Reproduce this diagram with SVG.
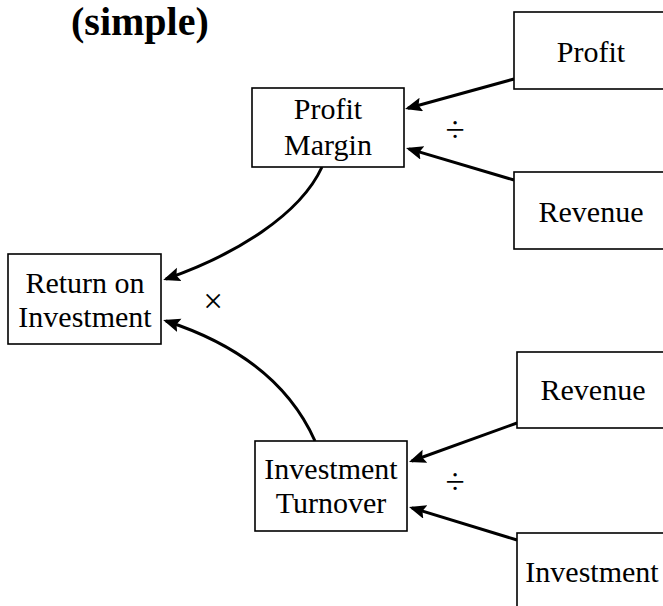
<svg xmlns="http://www.w3.org/2000/svg" width="663" height="606" viewBox="0 0 663 606">
<defs>
<style>
.box{fill:#fff;stroke:#000;stroke-width:1.6}
.t{font-family:"Liberation Serif","Times New Roman",serif;font-size:30px;fill:#000;text-anchor:middle}
.op{font-family:"Liberation Serif","Times New Roman",serif;font-size:35px;fill:#000;text-anchor:middle}
.title{font-family:"Liberation Serif","Times New Roman",serif;font-size:40px;font-weight:bold;fill:#000}
.c{fill:none;stroke:#000;stroke-width:3;marker-end:url(#ah)}
</style>
<marker id="ah" markerUnits="userSpaceOnUse" markerWidth="19" markerHeight="15" refX="14" refY="7" orient="auto">
<path d="M0,0 L17,7 L0,14 L3,7 z" fill="#000"/>
</marker>
</defs>
<rect width="663" height="606" fill="#fff"/>
<text class="title" x="71" y="35">(simple)</text>
<g id="connectors">
<path class="c" d="M514,79 L407.9,108.2"/>
<path class="c" d="M514,180 L408.9,148.9"/>
<path class="c" d="M517,423 L411.8,461"/>
<path class="c" d="M517,540 L411.9,507.9"/>
<path class="c" d="M322,167 C300,215 235,255 166,279"/>
<path class="c" d="M315,441 C290,385 240,345 166,321"/>
</g>
<g id="profit"><rect class="box" x="514" y="12" width="154" height="77"/><text class="t" x="591" y="62">Profit</text></g>
<g id="revenue1"><rect class="box" x="514" y="172" width="154" height="77"/><text class="t" x="591" y="222">Revenue</text></g>
<g id="revenue2"><rect class="box" x="517" y="352" width="154" height="76"/><text class="t" x="593" y="400">Revenue</text></g>
<g id="investment"><rect class="box" x="517" y="533" width="154" height="80"/><text class="t" x="592" y="582">Investment</text></g>
<g id="profit-margin"><rect class="box" x="252" y="88" width="152" height="79"/><text class="t" x="328" y="119">Profit</text><text class="t" x="328" y="155">Margin</text></g>
<g id="roi"><rect class="box" x="8" y="254" width="153" height="90"/><text class="t" x="85" y="293">Return on</text><text class="t" x="85" y="327">Investment</text></g>
<g id="investment-turnover"><rect class="box" x="255" y="441" width="152" height="90"/><text class="t" x="331" y="479">Investment</text><text class="t" x="331" y="513">Turnover</text></g>
<g id="operators">
<text class="op" x="455" y="142">÷</text>
<text class="op" x="455" y="494">÷</text>
<text class="op" x="213" y="313">×</text>
</g>
</svg>
